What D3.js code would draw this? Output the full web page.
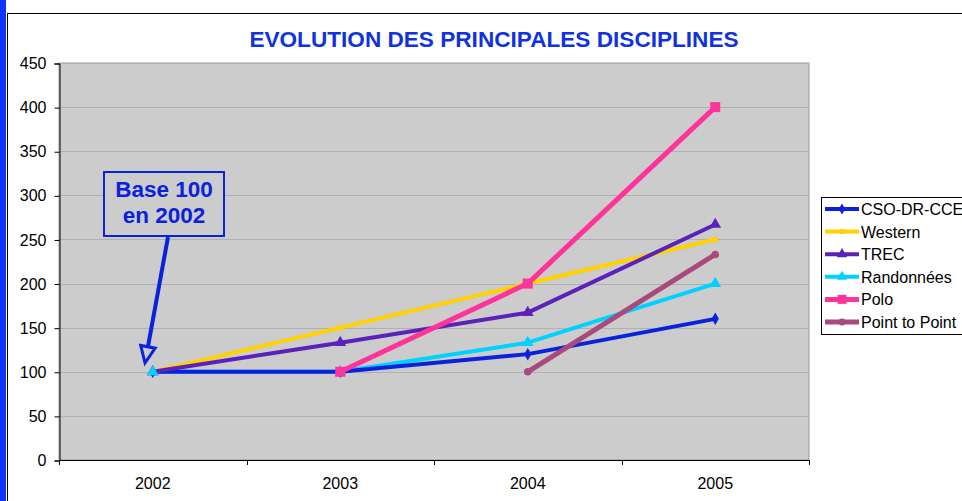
<!DOCTYPE html>
<html>
<head>
<meta charset="utf-8">
<title>Evolution des principales disciplines</title>
<script src="https://d3js.org/d3.v7.min.js"></script>
<style>
  body { margin: 0; background: #fff; }
  svg text { font-family: "Liberation Sans", Arial, sans-serif; }
</style>
</head>
<body>
<script>
  // data (base 100 en 2002)
  var years = ["2002", "2003", "2004", "2005"];
  var yTicks = [0, 50, 100, 150, 200, 250, 300, 350, 400, 450];
  var seriesNames = ["CSO-DR-CCE", "Western", "TREC", "Randonnées", "Polo", "Point to Point"];
  var cso      = [100, 100, 120, 160];
  var western  = [100, 150, 200, 250];
  var trec     = [100, 133, 167, 267];
  var rando    = [100, 100, 133, 200];
  var polo     = [null, 100, 200, 400];
  var p2p      = [null, null, 100, 233];

  var colors  = ["#0a22dd", "#ffd200", "#5a22b8", "#00d2ff", "#ff3399", "#a84a7c"];
  var symbols = [d3.symbolDiamond, d3.symbolSquare, d3.symbolTriangle, d3.symbolTriangle, d3.symbolSquare, d3.symbolCircle];
  var symSize = [45, 30, 60, 60, 100, 45];
  var widths  = [4, 4, 4, 4, 5, 5];
  var values  = [cso, western, trec, rando, polo, p2p];
  var lineOrder = [3, 0, 1, 2, 4, 5]; // which line sits on top of which

  var W = 962, H = 501;
  var svg = d3.select("body").append("svg").attr("width", W).attr("height", H);

  // left blue strip + outer chart frame
  svg.append("rect").attr("x", 0).attr("y", 0).attr("width", 6).attr("height", H).attr("fill", "#1133ff");
  svg.append("rect").attr("x", 7.5).attr("y", 13.5).attr("width", W).attr("height", H)
    .attr("fill", "#fff").attr("stroke", "#000").attr("stroke-width", 1);

  var plot = { left: 59, right: 809, top: 63, bottom: 460 };

  var x = d3.scaleBand().domain(years).range([plot.left, plot.right]);
  var y = d3.scaleLinear().domain([0, 450]).range([plot.bottom, plot.top]);

  svg.append("rect")
    .attr("x", plot.left).attr("y", plot.top)
    .attr("width", plot.right - plot.left).attr("height", plot.bottom - plot.top)
    .attr("fill", "#cccccc").attr("stroke", "#999").attr("stroke-width", 1);

  // gridlines
  svg.append("g").selectAll("line").data(yTicks.filter(function (d) { return d > 0; }))
    .enter().append("line")
    .attr("x1", plot.left).attr("x2", plot.right)
    .attr("y1", function (d) { return Math.round(y(d)) + 0.5; })
    .attr("y2", function (d) { return Math.round(y(d)) + 0.5; })
    .attr("stroke", "#b0b0b0").attr("stroke-width", 1);

  // y axis
  var yAxis = d3.axisLeft(y).tickValues(yTicks).tickSize(5).tickPadding(8);
  var gy = svg.append("g").attr("transform", "translate(" + (plot.left + 0.5) + ",0.5)").call(yAxis);
  gy.select(".domain").attr("stroke", "#000");
  gy.selectAll("text").style("font-size", "16px").attr("fill", "#000");

  // x axis, ticks on category boundaries
  svg.append("line").attr("x1", plot.left).attr("x2", plot.right + 1)
    .attr("y1", plot.bottom + 0.5).attr("y2", plot.bottom + 0.5).attr("stroke", "#000");
  var bounds = years.map(function (d) { return x(d); }).concat([plot.right]);
  svg.append("g").selectAll("line").data(bounds).enter().append("line")
    .attr("x1", function (d) { return Math.round(d) + 0.5; })
    .attr("x2", function (d) { return Math.round(d) + 0.5; })
    .attr("y1", plot.bottom).attr("y2", plot.bottom + 5).attr("stroke", "#000");
  svg.append("g").selectAll("text").data(years).enter().append("text")
    .attr("x", function (d) { return x(d) + x.bandwidth() / 2; })
    .attr("y", 489).attr("text-anchor", "middle")
    .style("font-size", "16px").text(function (d) { return d; });

  // series
  var line = d3.line()
    .defined(function (d) { return d.v !== null; })
    .x(function (d) { return x(d.year) + x.bandwidth() / 2; })
    .y(function (d) { return y(d.v); });

  function points(vals) {
    return years.map(function (yr, j) { return { year: yr, v: vals[j] }; });
  }

  lineOrder.forEach(function (i) {
    svg.append("path").datum(points(values[i])).attr("d", line)
      .attr("fill", "none").attr("stroke", colors[i]).attr("stroke-width", widths[i])
      .attr("stroke-linejoin", "round").attr("stroke-linecap", "round");
  });
  values.forEach(function (vals, i) {
    svg.append("g").selectAll("path").data(points(vals).filter(function (d) { return d.v !== null; }))
      .enter().append("path")
      .attr("transform", function (d) { return "translate(" + (x(d.year) + x.bandwidth() / 2) + "," + y(d.v) + ")"; })
      .attr("d", d3.symbol().type(symbols[i]).size(symSize[i]))
      .attr("fill", colors[i]);
  });

  // annotation
  var ann = svg.append("g");
  ann.append("rect").attr("x", 104).attr("y", 172).attr("width", 120).attr("height", 64)
    .attr("fill", "#cccccc").attr("stroke", "#0a22dd").attr("stroke-width", 2);
  ann.selectAll("text").data(["Base 100", "en 2002"]).enter().append("text")
    .attr("x", 164).attr("y", function (d, i) { return 197 + i * 26; })
    .attr("text-anchor", "middle").attr("fill", "#0a22dd")
    .style("font-size", "22.5px").style("font-weight", "bold").text(function (d) { return d; });
  var tip = [145, 363], base = [168, 237];
  var ang = Math.atan2(tip[1] - base[1], tip[0] - base[0]);
  ann.append("line").attr("x1", base[0]).attr("y1", base[1])
    .attr("x2", tip[0] - 14 * Math.cos(ang)).attr("y2", tip[1] - 14 * Math.sin(ang))
    .attr("stroke", "#0a22dd").attr("stroke-width", 4);
  var hl = 18, hw = 0.42;
  ann.append("path")
    .attr("d", "M" + (tip[0] - hl * Math.cos(ang - hw)) + "," + (tip[1] - hl * Math.sin(ang - hw)) +
      "L" + tip[0] + "," + tip[1] +
      "L" + (tip[0] - hl * Math.cos(ang + hw)) + "," + (tip[1] - hl * Math.sin(ang + hw)) + "Z")
    .attr("fill", "#cccccc").attr("stroke", "#0a22dd").attr("stroke-width", 3).attr("stroke-linejoin", "miter");

  // title
  svg.append("text").attr("x", 494).attr("y", 47).attr("text-anchor", "middle")
    .attr("fill", "#1133dd").style("font-size", "22.6px").style("font-weight", "bold")
    .text("EVOLUTION DES PRINCIPALES DISCIPLINES");

  // legend
  var lg = svg.append("g");
  lg.append("rect").attr("x", 821.5).attr("y", 197.5).attr("width", 160).attr("height", 137)
    .attr("fill", "#fff").attr("stroke", "#000");
  seriesNames.forEach(function (name, i) {
    var cy = 209 + i * 22.6;
    lg.append("line").attr("x1", 825).attr("x2", 859).attr("y1", cy).attr("y2", cy)
      .attr("stroke", colors[i]).attr("stroke-width", widths[i]);
    lg.append("path").attr("transform", "translate(842," + cy + ")")
      .attr("d", d3.symbol().type(symbols[i]).size(symSize[i] * 0.8)).attr("fill", colors[i]);
    lg.append("text").attr("x", 861).attr("y", cy + 6).style("font-size", "16px").text(name);
  });
</script>
</body>
</html>
